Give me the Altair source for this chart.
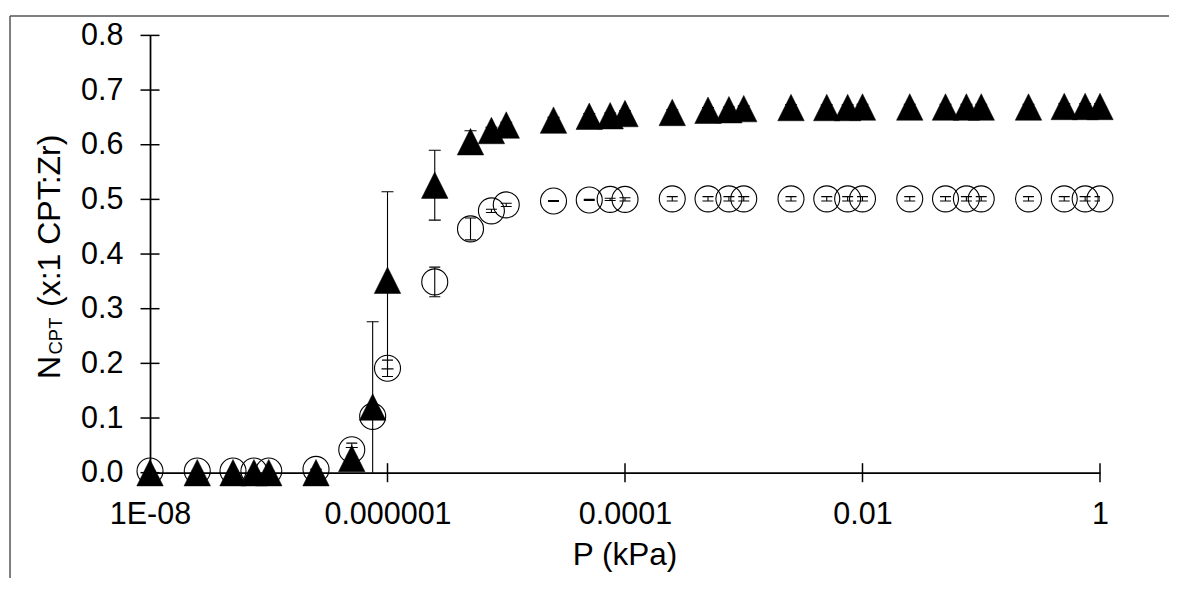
import altair as alt
import pandas as pd

# ---- data ----
P = [1e-8, 2.5e-8, 5e-8, 7.5e-8,
     1e-7, 2.5e-7, 5e-7, 7.5e-7,
     1e-6, 2.5e-6, 5e-6, 7.5e-6,
     1e-5, 2.5e-5, 5e-5, 7.5e-5,
     1e-4, 2.5e-4, 5e-4, 7.5e-4,
     1e-3, 2.5e-3, 5e-3, 7.5e-3,
     1e-2, 2.5e-2, 5e-2, 7.5e-2,
     1e-1, 2.5e-1, 5e-1, 7.5e-1,
     1.0]

circ = [0.003, 0.003, 0.003, 0.003,
        0.003, 0.006, 0.042, 0.103,
        0.191, 0.349, 0.446, 0.479,
        0.490, 0.497, 0.499, 0.500,
        0.500, 0.501, 0.501, 0.501,
        0.501, 0.501, 0.501, 0.501,
        0.501, 0.501, 0.501, 0.501,
        0.501, 0.501, 0.501, 0.501,
        0.501]
circ_err = [0, 0, 0, 0,
            0, 0, 0.012, 0.005,
            0.015, 0.027, 0.020, 0.003,
            0.003, 0.001, 0.001, 0.002,
            0.003, 0.004, 0.004, 0.004,
            0.004, 0.004, 0.004, 0.004,
            0.004, 0.004, 0.004, 0.004,
            0.004, 0.004, 0.004, 0.004,
            0.004]

tri = [0, 0, 0, 0,
       0, 0, 0.026, 0.120,
       0.352, 0.526, 0.6055, 0.626,
       0.636, 0.645, 0.652, 0.653,
       0.657, 0.659, 0.663, 0.664,
       0.666, 0.668, 0.668, 0.668,
       0.669, 0.669, 0.669, 0.669,
       0.669, 0.669, 0.670, 0.670,
       0.670]
tri_err = [0, 0, 0, 0,
           0, 0, 0.020, 0.156,
           0.162, 0.064, 0.020, 0.006,
           0.005, 0.005, 0.005, 0.005,
           0.005, 0.005, 0.005, 0.005,
           0.005, 0.005, 0.005, 0.005,
           0.005, 0.005, 0.005, 0.005,
           0.005, 0.005, 0.005, 0.005,
           0.005]

y_ticks = [0.0, 0.1, 0.2, 0.3, 0.4, 0.5, 0.6, 0.7, 0.8]
x_tick_values = [1e-8, 1e-6, 1e-4, 1e-2, 1.0]
x_tick_labels = ["1E-08", "0.000001", "0.0001", "0.01", "1"]
x_exps = [-8, -6, -4, -2, 0]

FONT = "Liberation Sans"
W, H = 950, 437.3

df = pd.DataFrame({
    "P": P,
    "circ": circ,
    "circ_lo": [v - e for v, e in zip(circ, circ_err)],
    "circ_hi": [v + e for v, e in zip(circ, circ_err)],
    "tri": tri,
    "tri_lo": [v - e for v, e in zip(tri, tri_err)],
    "tri_hi": [v + e for v, e in zip(tri, tri_err)],
})
ytick_df = pd.DataFrame({"yt": y_ticks})
xtick_df = pd.DataFrame({"xt": x_tick_values})
one = pd.DataFrame({"a": [0]})

label_expr = ""
for k, lab in zip(x_exps, x_tick_labels):
    label_expr += f"abs(log(datum.value)/LN10 - ({k})) < 0.01 ? '{lab}' : "
label_expr += "''"

xscale = alt.Scale(type="log", domain=[1e-8, 1.0], nice=False)
yscale = alt.Scale(domain=[0, 0.8], nice=False, zero=False)

xaxis = alt.Axis(values=x_tick_values, labelExpr=label_expr, ticks=False, tickSize=0,
                 labelPadding=26.5, labelFontSize=30.5, labelFont=FONT, labelColor="black",
                 domainColor="black", domainWidth=1.75, grid=False, title="",
                 labelFlush=False, labelOverlap=False)
yaxis = alt.Axis(values=y_ticks, format=".1f", ticks=False, tickSize=0,
                 labelPadding=27, labelFontSize=30.5, labelFont=FONT, labelColor="black",
                 domainColor="black", domainWidth=1.75, grid=False, title="",
                 labelOverlap=False)


def X(field="P"):
    return alt.X(f"{field}:Q", scale=xscale, axis=xaxis)


def Y(field):
    return alt.Y(f"{field}:Q", scale=yscale, axis=yaxis)


base = alt.Chart(df)

# circle series error bars and markers
c_rule = base.mark_rule(color="black", strokeWidth=1.1, clip=True).encode(
    x=X(), y=Y("circ_lo"), y2="circ_hi:Q")
c_cap_lo = base.mark_tick(orient="horizontal", size=11, thickness=1.1, color="black",
                          opacity=1, clip=True).encode(x=X(), y=Y("circ_lo"))
c_cap_hi = base.mark_tick(orient="horizontal", size=11, thickness=1.1, color="black",
                          opacity=1, clip=True).encode(x=X(), y=Y("circ_hi"))
c_pts = base.mark_point(shape="circle", size=676, filled=False, stroke="black",
                        strokeWidth=1.1, opacity=1).encode(x=X(), y=Y("circ"))

# triangle series
t_rule = base.mark_rule(color="black", strokeWidth=1.1, clip=True).encode(
    x=X(), y=Y("tri_lo"), y2="tri_hi:Q")
t_cap_lo = base.mark_tick(orient="horizontal", size=12, thickness=1.1, color="black",
                          opacity=1, clip=True).encode(x=X(), y=Y("tri_lo"))
t_cap_hi = base.mark_tick(orient="horizontal", size=12, thickness=1.1, color="black",
                          opacity=1, clip=True).encode(x=X(), y=Y("tri_hi"))
t_pts = base.mark_point(shape="M0,-1L-1,1L1,1Z", size=700, filled=True, fill="black",
                        stroke="black", strokeWidth=0.5, opacity=1).encode(
    x=X(), y=Y("tri"))

# crossing tick marks on axes
ytick_layer = alt.Chart(ytick_df).mark_tick(orient="horizontal", size=19, thickness=1.5,
                                            color="black", opacity=1).encode(
    x=alt.value(0), y=Y("yt"))
xtick_layer = alt.Chart(xtick_df).mark_tick(orient="vertical", size=19, thickness=1.5,
                                            color="black", opacity=1).encode(
    x=X("xt"), y=alt.value(H))

# outer frame (chart-area border)
frame_left = alt.Chart(one).mark_rule(color="#555555", strokeWidth=1.5).encode(
    x=alt.value(-140), y=alt.value(-19.4), y2=alt.value(560))
frame_top = alt.Chart(one).mark_rule(color="#555555", strokeWidth=1.5).encode(
    x=alt.value(-140), x2=alt.value(1040), y=alt.value(-19.4))

# titles
xtitle = alt.Chart(one).mark_text(text="P (kPa)", font=FONT, fontSize=31.5, color="black",
                                  align="center", baseline="alphabetic").encode(
    x=alt.value(W / 2), y=alt.value(530))
yt_N = alt.Chart(one).mark_text(text="N", font=FONT, fontSize=32, color="black",
                                angle=270, align="left", baseline="alphabetic").encode(
    x=alt.value(-90), y=alt.value(343.6))
yt_sub = alt.Chart(one).mark_text(text="CPT", font=FONT, fontSize=18.5, color="black",
                                  angle=270, align="left", baseline="alphabetic").encode(
    x=alt.value(-88), y=alt.value(319.1))
yt_rest = alt.Chart(one).mark_text(text="(x:1 CPT:Zr)", font=FONT, fontSize=32, color="black",
                                   angle=270, align="left", baseline="alphabetic").encode(
    x=alt.value(-90), y=alt.value(271.6))

chart = alt.layer(
    frame_left, frame_top, ytick_layer, xtick_layer,
    c_rule, c_cap_lo, c_cap_hi, c_pts,
    t_rule, t_cap_lo, t_cap_hi, t_pts,
    xtitle, yt_N, yt_sub, yt_rest,
).properties(
    width=W, height=H,
    background="white",
    autosize=alt.AutoSizeParams(type="none"),
    padding={"left": 142, "top": 27.4, "right": 69, "bottom": 105},
).configure_view(strokeWidth=0, stroke="transparent")

chart.save("out.html", embed_options={"renderer": "svg", "actions": False})
